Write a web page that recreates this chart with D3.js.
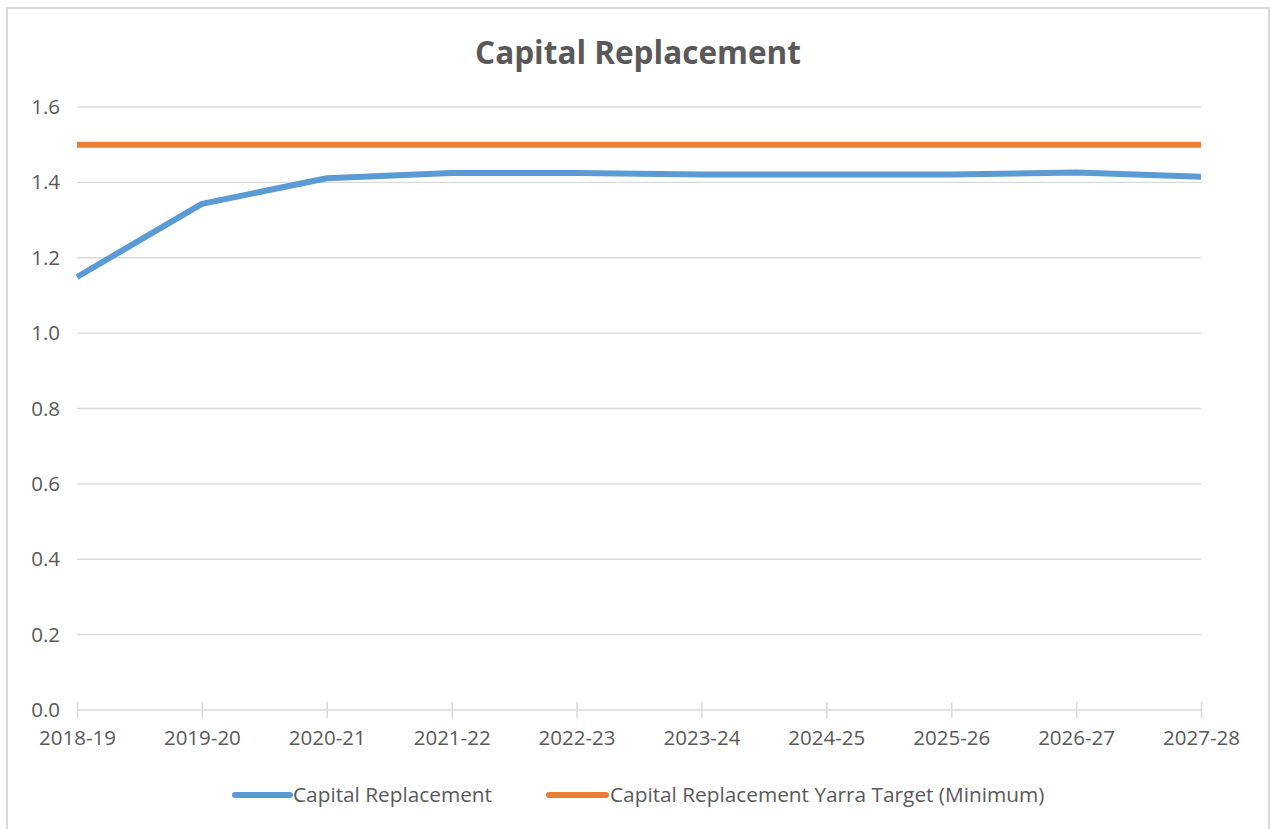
<!DOCTYPE html>
<html><head><meta charset="utf-8">
<script src="https://cdn.jsdelivr.net/npm/d3@7"></script>
<style>body{margin:0;background:#fff;} svg{display:block;} text{font-family:"Open Sans",Lato,sans-serif;}</style>
</head><body>
<svg id="c" width="1271" height="829"></svg>
<script>
const categories = ["2018-19","2019-20","2020-21","2021-22","2022-23","2023-24","2024-25","2025-26","2026-27","2027-28"];
const capitalReplacement = [1.149,1.343,1.411,1.425,1.425,1.421,1.421,1.421,1.426,1.415];
const yarraTarget = [1.5,1.5,1.5,1.5,1.5,1.5,1.5,1.5,1.5,1.5];
const yTicks = [0,0.2,0.4,0.6,0.8,1.0,1.2,1.4,1.6];
const seriesNames = ["Capital Replacement","Capital Replacement Yarra Target (Minimum)"];
const colors = ["#5b9bd5","#ed7d31"];
const FONT = "'Open Sans',Lato,sans-serif";

const svg = d3.select("#c");
svg.append("rect").attr("x",7).attr("y",8).attr("width",1262).attr("height",840)
  .attr("fill","#fff").attr("stroke","#d9d9d9").attr("stroke-width",2);

const x = d3.scalePoint().domain(categories).range([77,1201]);
const y = d3.scaleLinear().domain([0,1.6]).range([710,107]);

svg.append("g").selectAll("line").data(yTicks.filter(d=>d>0)).join("line")
  .attr("x1",77).attr("x2",1201).attr("y1",d=>y(d)).attr("y2",d=>y(d))
  .attr("stroke","#d9d9d9").attr("stroke-width",1.3);

const ya = svg.append("g").attr("transform","translate(77,0)")
  .call(d3.axisLeft(y).tickValues(yTicks).tickFormat(d3.format(".1f")).tickSize(0).tickPadding(17));
ya.select(".domain").remove();
ya.selectAll("text").attr("fill","#595959").style("font-size","20.5px").style("font-family",FONT);

const xa = svg.append("g").attr("transform","translate(0,710)")
  .call(d3.axisBottom(x).tickSize(8).tickPadding(12).tickSizeOuter(0));
xa.select(".domain").attr("stroke","#d9d9d9").attr("stroke-width",1.5).attr("d","M77,0H1201");
xa.selectAll(".tick line").attr("stroke","#d9d9d9").attr("stroke-width",1.5).attr("y1",-8).attr("y2",8);
xa.selectAll("text").attr("fill","#595959").style("font-size","20.5px").style("font-family",FONT);

const line = d3.line().x((d,i)=>x(categories[i])).y(d=>y(d));
svg.append("path").datum(yarraTarget).attr("d",line).attr("fill","none")
  .attr("stroke",colors[1]).attr("stroke-width",6).attr("stroke-linejoin","round");
svg.append("path").datum(capitalReplacement).attr("d",line).attr("fill","none")
  .attr("stroke",colors[0]).attr("stroke-width",6).attr("stroke-linejoin","round");

svg.append("text").attr("x",638).attr("y",64).attr("text-anchor","middle")
  .attr("fill","#595959").style("font-size","31.5px").style("font-weight","bold").text("Capital Replacement");

const leg = [{x1:235,x2:290,tx:293},{x1:549,x2:606,tx:610}];
seriesNames.forEach((n,i)=>{
  svg.append("line").attr("x1",leg[i].x1).attr("x2",leg[i].x2).attr("y1",795).attr("y2",795)
    .attr("stroke",colors[i]).attr("stroke-width",6).attr("stroke-linecap","round");
  svg.append("text").attr("x",leg[i].tx).attr("y",795).attr("dy","0.35em")
    .attr("fill","#595959").style("font-size","20.8px").text(n);
});
</script>
</body></html>
